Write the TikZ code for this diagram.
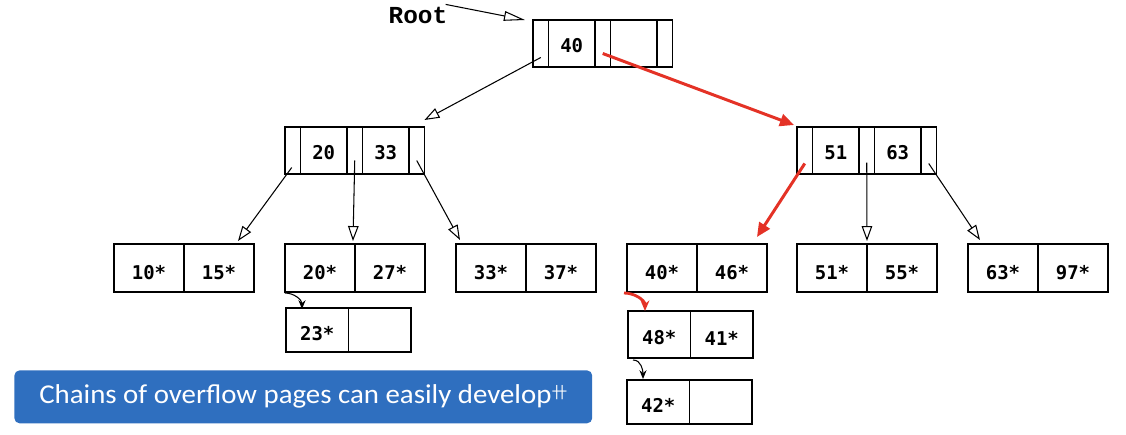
\documentclass[tikz,border=0pt]{standalone}
\usepackage{fontspec}
\setmainfont{Carlito}
\setmonofont{DejaVu Sans Mono}
\newfontfamily\rootfont{Liberation Mono}
\newfontfamily\bannerfont[FakeStretch=1.06]{Carlito}
\newfontfamily\cjk{Noto Sans CJK SC}
\usetikzlibrary{arrows.meta, positioning}
\definecolor{pathred}{RGB}{228,50,38}
\definecolor{bannerblue}{RGB}{47,111,191}
\tikzstyle{cell} = [rectangle, draw, fill=white, outer sep=0pt, inner sep=0pt, line width=0.7pt, font=\ttfamily\bfseries\fontsize{10.8}{12}\selectfont]
\tikzstyle{ptr} = [cell, minimum width=0.31cm, minimum height=0.94cm]
\tikzstyle{key} = [cell, minimum width=0.93cm, minimum height=0.94cm, text height=10.8pt]
\tikzstyle{entry} = [cell, minimum width=1.4cm, minimum height=0.96cm, text height=13pt]
\tikzstyle{spill} = [cell, minimum width=1.25cm, minimum height=0.88cm, text height=12pt]
\tikzstyle{link} = [line width=0.6pt, -{Triangle[open, length=8.5pt, width=6pt]}]
\tikzstyle{hot} = [pathred, line width=1.7pt, -{Triangle[length=8pt, width=7pt]}]
\tikzstyle{chain} = [line width=0.6pt, -{Stealth[length=5pt, width=4pt]}]
\tikzstyle{banner} = [rectangle, fill=bannerblue, rounded corners=3pt, text=white, minimum width=11.56cm, minimum height=1.06cm, font=\bannerfont\fontsize{15.5}{17}\selectfont]

\begin{document}
\begin{tikzpicture}[x=0.02cm, y=-0.02cm]
\useasboundingbox (0,0) rectangle (1126,434);
% root page
\node[inner sep=0pt, font=\rootfont\bfseries\fontsize{13.9}{15}\selectfont](rootlbl) at (418,15){Root};
\node[ptr, anchor=north west](rp0) at (533,20){};
\node[key, right=0pt of rp0](rk0){40};
\node[ptr, right=0pt of rk0](rp1){};
\node[key, right=0pt of rp1](rk1){};
\node[ptr, right=0pt of rk1](rp2){};
% index pages
\node[ptr, anchor=north west](lp0) at (285,127){};
\node[key, right=0pt of lp0](lk0){20};
\node[ptr, right=0pt of lk0](lp1){};
\node[key, right=0pt of lp1](lk1){33};
\node[ptr, right=0pt of lk1](lp2){};
\node[ptr, anchor=north west](np0) at (797,127){};
\node[key, right=0pt of np0](nk0){51};
\node[ptr, right=0pt of nk0](np1){};
\node[key, right=0pt of np1](nk1){63};
\node[ptr, right=0pt of nk1](np2){};
% leaf pages
\node[entry, anchor=north west](la1) at (114,244){10*};
\node[entry, right=0pt of la1](la2){15*};
\node[entry, anchor=north west](lb1) at (285,244){20*};
\node[entry, right=0pt of lb1](lb2){27*};
\node[entry, anchor=north west](lc1) at (456,244){33*};
\node[entry, right=0pt of lc1](lc2){37*};
\node[entry, anchor=north west](ld1) at (627,244){40*};
\node[entry, right=0pt of ld1](ld2){46*};
\node[entry, anchor=north west](le1) at (797,244){51*};
\node[entry, right=0pt of le1](le2){55*};
\node[entry, anchor=north west](lf1) at (968,244){63*};
\node[entry, right=0pt of lf1](lf2){97*};
% overflow pages
\node[spill, anchor=north west](ob1) at (286,308){23*};
\node[spill, right=0pt of ob1](ob2){};
\node[spill, minimum height=0.94cm, anchor=north west](od1) at (628,311){48*};
\node[spill, minimum height=0.94cm, right=0pt of od1](od2){41*};
\node[spill, anchor=north west](oe1) at (627,380){42*};
\node[spill, right=0pt of oe1](oe2){};
% pointers
\draw[line width=0.6pt, -{Triangle[open, length=12pt, width=5.5pt]}] ([shift={(-2,-2)}]rootlbl.north east) -- ([shift={(-8,0)}]rp0.north west);
\draw[link] ([shift={(0,14)}]rp0.center) -- ([shift={(0,-7)}]lp2.north east);
\draw[hot] ([shift={(0,10)}]rp1.center) -- ([shift={(-3,-2)}]np0.north west);
\draw[link] ([shift={(-1,17)}]lp0.center) -- ([shift={(-16,-3)}]la2.north east);
\draw[link] ([shift={(0,10)}]lp1.center) -- ([shift={(-2,-3)}]lb1.north east);
\draw[link] ([shift={(0,10)}]lp2.center) -- ([shift={(4,-4)}]lc1.north west);
\draw[hot] ([shift={(0,13)}]np0.center) -- ([shift={(-10,-7)}]ld2.north east);
\draw[link] ([shift={(0,12)}]np1.center) -- ([shift={(0,-3)}]le1.north east);
\draw[link] ([shift={(0,13)}]np2.center) -- ([shift={(12,-4)}]lf1.north west);
% overflow chains
\draw[chain] ([shift={(0,1)}]lb1.south west) to[out=0, in=90] ([shift={(16,1)}]ob1.north west);
\draw[pathred, line width=1.6pt, -{Stealth[length=6pt, width=5pt]}] ([shift={(-3,1)}]ld1.south west) to[out=0, in=90] ([shift={(17,0)}]od1.north west);
\draw[chain] ([shift={(5,2)}]od1.south west) to[out=0, in=90] ([shift={(16,-1)}]oe1.north west);
% note
\node[banner, anchor=north west](note) at (14,370){Chains of overflow pages can easily develop\raisebox{0.45ex}{\cjk\fontsize{9}{10}\selectfont 卄}};
\end{tikzpicture}
\end{document}
